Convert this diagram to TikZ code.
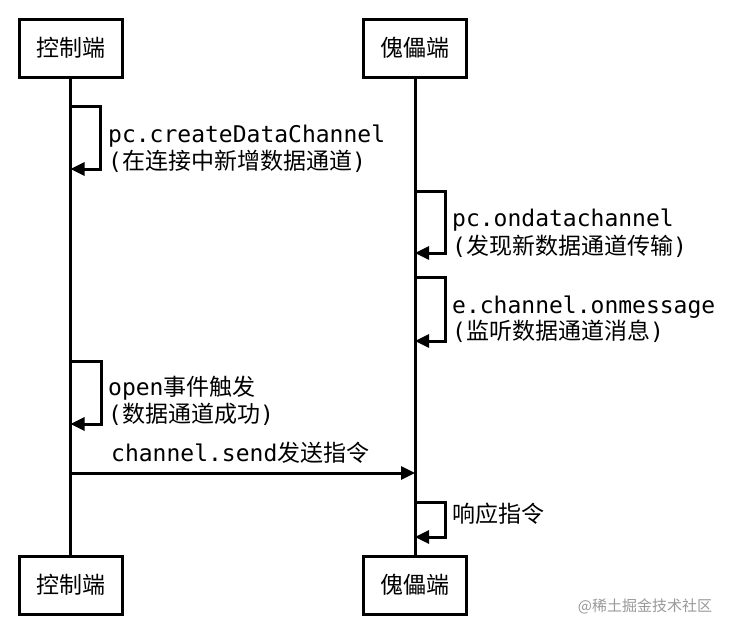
\documentclass[tikz,border=0pt]{standalone}
\usepackage{fontspec}
\newfontfamily\cjkfont{Noto Sans CJK SC}
\newfontfamily\monofont{DejaVu Sans Mono}
\usetikzlibrary{arrows.meta}
\newcommand{\M}[1]{{\monofont\fontsize{23}{26}\selectfont #1}}
\newcommand{\C}[1]{{\cjkfont\fontsize{23}{26}\selectfont #1}}
\begin{document}
\begin{tikzpicture}[x=1pt,y=-1pt,
  box/.style={draw,line width=3pt,minimum width=103pt,minimum height=58pt,inner sep=0pt,font=\cjkfont\fontsize{23}{26}\selectfont},
  life/.style={line width=3pt},
  msg/.style={line width=3pt,-{Triangle[length=14pt,width=13pt]}},
  lbl/.style={anchor=base west,inner sep=0pt},
  wm/.style={text=black!40,font=\cjkfont\fontsize{15}{18}\selectfont,inner sep=0pt}]
\useasboundingbox (0,0) rectangle (731,633);
\fill[white] (0,0) rectangle (731,633);
% boxes
\node[box] (ct) at (70.5,48) {控制端};
\node[box] (pt) at (415,48) {傀儡端};
\node[box] (cb) at (70.5,585) {控制端};
\node[box] (pb) at (415,585) {傀儡端};
% lifelines
\draw[life] (ct.south) -- (cb.north);
\draw[life] (pt.south) -- (pb.north);
% loop 1 (left)
\coordinate (a1) at (70.5,106);
\coordinate (a2) at (70.5,169);
\draw[msg] (a1) -- (100,106) -- (100,169) -- (a2);
\node[lbl] (l1a) at (108,142) {\M{pc.createDataChannel}};
\node[lbl] (l1b) at (108,169) {\M{(}\C{在连接中新增数据通道}\M{)}};
% loop 2 (right)
\coordinate (b1) at (415,191);
\coordinate (b2) at (415,253);
\draw[msg] (b1) -- (445,191) -- (445,253) -- (b2);
\node[lbl] (l2a) at (452,226) {\M{pc.ondatachannel}};
\node[lbl] (l2b) at (452,254) {\M{(}\C{发现新数据通道传输}\M{)}};
% loop 3 (right)
\coordinate (c1) at (415,277);
\coordinate (c2) at (415,341);
\draw[msg] (c1) -- (445,277) -- (445,341) -- (c2);
\node[lbl] (l3a) at (452,313) {\M{e.channel.onmessage}};
\node[lbl] (l3b) at (452,339) {\M{(}\C{监听数据通道消息}\M{)}};
% loop 4 (left)
\coordinate (d1) at (70.5,361);
\coordinate (d2) at (70.5,424);
\draw[msg] (d1) -- (101,361) -- (101,424) -- (d2);
\node[lbl] (l4a) at (108,395) {\M{open}\C{事件触发}};
\node[lbl] (l4b) at (108,422) {\M{(}\C{数据通道成功}\M{)}};
% message
\coordinate (e1) at (70.5,473);
\coordinate (e2) at (415,473);
\draw[msg] (e1) -- (e2);
\node[lbl] (l5) at (111,461) {\M{channel.send}\C{发送指令}};
% loop 5 (right)
\coordinate (f1) at (415,502);
\coordinate (f2) at (415,537);
\draw[msg] (f1) -- (445,502) -- (445,537) -- (f2);
\node[lbl] (l6) at (452,522) {\C{响应指令}};
% watermark
\node[wm] (w) at (645,606) {@稀土掘金技术社区};
\end{tikzpicture}
\end{document}
